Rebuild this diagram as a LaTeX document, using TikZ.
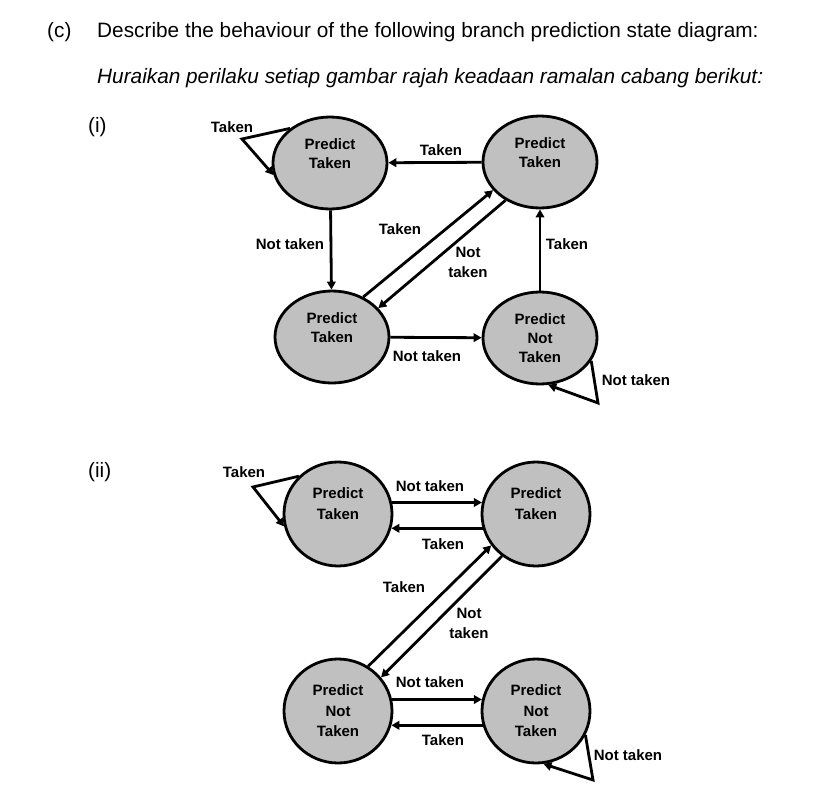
\documentclass[tikz,border=0pt]{standalone}
\usepackage{fontspec}
\setmainfont{Liberation Sans}
\usetikzlibrary{shapes.geometric,arrows.meta}
\definecolor{stategray}{RGB}{192,192,192}
\begin{document}
\begin{tikzpicture}[x=1pt,y=-1pt,
  state/.style={ellipse,draw,line width=2.8pt,fill=stategray,inner sep=0pt,
    align=center,font=\fontsize{15}{19}\selectfont\bfseries},
  statei/.style={state,minimum width=114pt,minimum height=92pt},
  stateii/.style={state,minimum width=108pt,minimum height=104pt,font=\fontsize{15}{20.5}\selectfont\bfseries},
  lbl/.style={font=\fontsize{15}{20}\selectfont\bfseries,align=center,inner sep=0pt},
  body/.style={font=\fontsize{20.8}{24}\selectfont,inner sep=0pt,anchor=base west},
  arr/.style={line width=2.8pt,-{Triangle[length=8pt,width=8.5pt]}},
  loopline/.style={line width=2.8pt,line join=miter,-{Triangle[length=8pt,width=8.5pt]}}]
\useasboundingbox (0,0) rectangle (815,798);

% header
\node[body] (c) at (47,37) {(c)};
\node[body] (q) at (97,37) {Describe the behaviour of the following branch prediction state diagram:};
\node[body] (qm) at (97,83) {\itshape Huraikan perilaku setiap gambar rajah keadaan ramalan cabang berikut:};
\node[body] (pi) at (88,132) {(i)};
\node[body] (pii) at (88,477) {(ii)};

% ---------- diagram (i)
\node[statei] (a1) at (330,163) {Predict\\Taken\\\phantom{T}};
\node[statei] (a2) at (540,162) {Predict\\Taken\\\phantom{T}};
\node[statei] (a3) at (332,337) {Predict\\Taken\\\phantom{T}};
\node[statei] (a4) at (540,338) {Predict\\Not\\Taken};

\draw[arr] (a2) -- (a1);
\draw[arr] (a1) -- (a3);
\draw[arr] (a3) -- (a4);
\draw[arr] (a4) -- (a2);
\draw[arr] (a3.52) -- (a2.211);
\draw[arr] (a2.228) -- (a3.32);

\coordinate (l1) at (242,139);
\draw[loopline] (a1.139) -- (l1) -- (a1.192);
\coordinate (l2) at (598,403);
\draw[loopline] (a4.336) -- (l2) -- (a4.280);

\node[lbl] (t1) at (441,150) {Taken};
\node[lbl] (t2) at (290,244) {Not taken};
\node[lbl] (t3) at (427,356) {Not taken};
\node[lbl] (t4) at (567,244) {Taken};
\node[lbl] (t5) at (400,229) {Taken};
\node[lbl] (t6) at (468,262) {Not\\taken};
\node[lbl] (t7) at (232,127) {Taken};
\node[lbl] (t8) at (636,380) {Not taken};

% ---------- diagram (ii)
\node[stateii] (b1) at (338,514) {Predict\\Taken\\\phantom{T}};
\node[stateii] (b2) at (536,514) {Predict\\Taken\\\phantom{T}};
\node[stateii] (b3) at (338,711) {Predict\\Not\\Taken};
\node[stateii] (b4) at (536,711) {Predict\\Not\\Taken};

\draw[arr] (b1.12) -- (b2.168);
\draw[arr] (b2.195) -- (b1.345);
\draw[arr] (b3.12) -- (b4.168);
\draw[arr] (b4.195) -- (b3.345);
\draw[arr] (b3.56) -- (b2.215);
\draw[arr] (b2.231) -- (b3.38);

\coordinate (m1) at (253,487);
\draw[loopline] (b1.136) -- (m1) -- (b1.193);
\coordinate (m2) at (593,780);
\draw[loopline] (b4.334) -- (m2) -- (b4.278);

\node[lbl] (u1) at (430,486) {Not taken};
\node[lbl] (u2) at (443,544) {Taken};
\node[lbl] (u3) at (430,682) {Not taken};
\node[lbl] (u4) at (443,740) {Taken};
\node[lbl] (u5) at (404,587) {Taken};
\node[lbl] (u6) at (469,623) {Not\\taken};
\node[lbl] (u7) at (244,472) {Taken};
\node[lbl] (u8) at (628,755) {Not taken};
\end{tikzpicture}
\end{document}
